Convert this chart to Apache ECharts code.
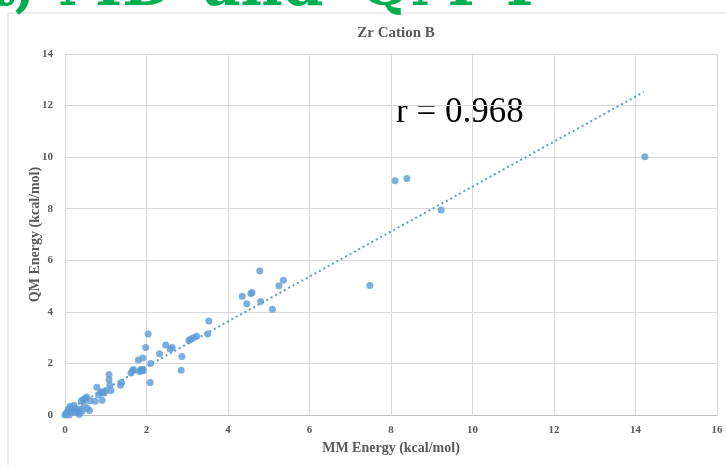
<!DOCTYPE html>
<html>
<head>
<meta charset="utf-8">
<script src="https://cdn.jsdelivr.net/npm/echarts@6/dist/echarts.min.js"></script>
<style>
    html, body { margin: 0; padding: 0; background: #fff; }
    #chart { width: 726px; height: 466px; }
</style>
</head>
<body>
<div id="chart"></div>
<script>
// MM energy (x) vs QM energy (y), kcal/mol
var mmEnergy = [
    0, 0.02, 0.05, 0.08, 0.1, 0.12, 0.15, 0.18, 0.2, 0.22,
    0.25, 0.28, 0.3, 0.33, 0.35, 0.38, 0.4, 0.42, 0.45, 0.47,
    0.5, 0.53, 0.55, 0.6, 0.62, 0.74, 0.78, 0.82, 0.88, 0.9,
    0.91, 0.96, 1.0, 1.08, 1.08, 1.1, 1.13, 1.36, 1.39, 1.62,
    1.66, 1.68, 1.8, 1.83, 1.86, 1.87, 1.9, 1.91, 1.92, 1.98,
    2.04, 2.09, 2.1, 2.32, 2.47, 2.58, 2.63, 2.85, 2.87, 3.04,
    3.08, 3.15, 3.23, 3.5, 3.53, 4.35, 4.46, 4.56, 4.59, 4.78,
    4.8, 5.09, 5.25, 5.36, 7.48, 8.1, 8.39, 9.23, 14.23
]
var qmEnergy = [
    0, 0.05, 0.1, 0.2, 0.0, 0.33, 0.15, 0.25, 0.1, 0.38,
    0.27, 0.12, 0.2, 0.1, 0.02, 0.22, 0.55, 0.15, 0.6, 0.4,
    0.65, 0.7, 0.25, 0.17, 0.55, 0.53, 1.08, 0.79, 0.9, 0.85,
    0.57, 0.85, 0.95, 1.57, 1.37, 1.15, 0.95, 1.15, 1.26, 1.63,
    1.73, 1.76, 2.13, 1.69, 1.76, 1.72, 1.76, 2.21, 1.72, 2.62,
    3.14, 1.26, 2.0, 2.38, 2.71, 2.56, 2.62, 1.74, 2.27, 2.89,
    2.95, 3.0, 3.05, 3.14, 3.65, 4.61, 4.31, 4.71, 4.75, 5.58,
    4.4, 4.1, 5.01, 5.23, 5.02, 9.08, 9.17, 7.95, 10.02
]
// linear trendline ends as drawn
var trendX = [0, 14.2]
var trendY = [0.14, 12.52]
var xTicks = [0, 2, 4, 6, 8, 10, 12, 14, 16]
var yTicks = [0, 2, 4, 6, 8, 10, 12, 14]

var points = mmEnergy.map(function (x, i) { return [x, qmEnergy[i]] })
var trend = trendX.map(function (x, i) { return [x, trendY[i]] })

var serif = '"Liberation Serif", "DejaVu Serif", serif'
var gray = '#595959'
var headFont = '"DejaVu Serif", serif'

function headPiece (txt, x) {
    return {
        type: 'text', x: x, y: 19, silent: true,
        style: { text: txt, fontFamily: headFont, fontWeight: 'bold', fontSize: 58, fill: '#00b050', verticalAlign: 'bottom' }
    }
}

var myChart = echarts.init(document.getElementById('chart'))
myChart.setOption({
    backgroundColor: '#fff',
    animation: false,
    title: {
        text: 'Zr Cation B',
        left: 391,
        textAlign: 'center',
        top: 21,
        textStyle: { fontFamily: serif, fontSize: 15, fontWeight: 'bold', color: gray }
    },
    grid: { left: 65, right: 9, top: 54, bottom: 51 },
    xAxis: {
        type: 'value',
        min: xTicks[0],
        max: xTicks[xTicks.length - 1],
        interval: 2,
        name: 'MM Energy (kcal/mol)',
        nameLocation: 'middle',
        nameGap: 26,
        nameTextStyle: { fontFamily: serif, fontSize: 14, fontWeight: 'bold', color: gray },
        axisLine: { lineStyle: { color: '#bfbfbf', width: 1 } },
        axisTick: { show: false },
        axisLabel: { fontFamily: serif, fontSize: 11, fontWeight: 'bold', color: gray, margin: 10 },
        splitLine: { lineStyle: { color: '#d9d9d9', width: 1 } }
    },
    yAxis: {
        type: 'value',
        min: yTicks[0],
        max: yTicks[yTicks.length - 1],
        interval: 2,
        name: 'QM Energy (kcal/mol)',
        nameLocation: 'middle',
        nameGap: 23,
        nameMoveOverlap: false,
        nameTextStyle: { fontFamily: serif, fontSize: 14, fontWeight: 'bold', color: gray },
        axisLine: { show: false },
        axisTick: { show: false },
        axisLabel: { fontFamily: serif, fontSize: 11, fontWeight: 'bold', color: gray, margin: 12 },
        splitLine: { lineStyle: { color: '#d9d9d9', width: 1 } }
    },
    series: [
        {
            type: 'line',
            data: trend,
            symbol: 'none',
            lineStyle: { color: '#5b9bd5', width: 2, type: [2, 3] },
            z: 1
        },
        {
            type: 'scatter',
            data: points,
            symbolSize: 7,
            itemStyle: { color: '#5b9bd5' },
            z: 2
        }
    ],
    graphic: [
        {
            type: 'rect',
            shape: { x: 8, y: 13, width: 800, height: 500 },
            style: { fill: 'none', stroke: '#d9d9d9', lineWidth: 1 },
            silent: true
        },
        {
            type: 'text',
            left: 396,
            top: 95,
            style: { text: 'r = 0.968', fontFamily: serif, fontSize: 35, fill: '#000' }
        },
        // slide heading cut off by the top edge
        headPiece('t,', -12),
        headPiece('MD', 58),
        headPiece('and', 203),
        headPiece('QM', 360),
        headPiece('T', 498)
    ]
})
</script>
</body>
</html>
